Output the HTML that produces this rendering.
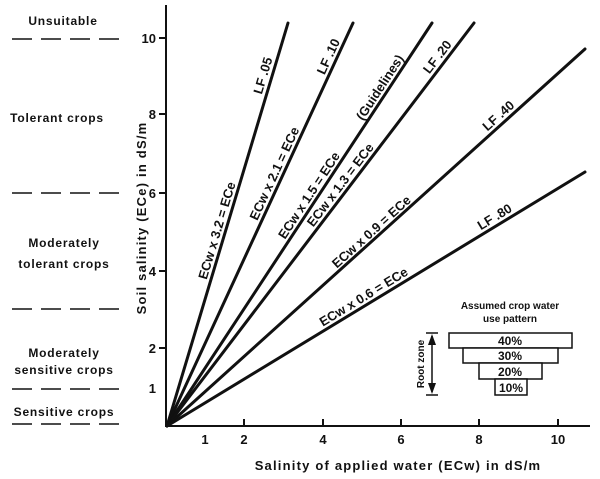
<!DOCTYPE html>
<html><head><meta charset="utf-8"><style>
body{margin:0;background:#fff}
svg{display:block}
text{font-family:"Liberation Sans",sans-serif;fill:#111;font-weight:bold}
</style></head><body>
<svg width="600" height="479" viewBox="0 0 600 479" xmlns="http://www.w3.org/2000/svg">
<g stroke="#111" stroke-width="2" fill="none">
<line x1="166" y1="5" x2="166" y2="427"/>
<line x1="165" y1="426" x2="590" y2="426"/>
<line x1="159" y1="38" x2="166" y2="38"/>
<line x1="159" y1="114" x2="166" y2="114"/>
<line x1="159" y1="193" x2="166" y2="193"/>
<line x1="159" y1="271" x2="166" y2="271"/>
<line x1="159" y1="348" x2="166" y2="348"/>
<line x1="244" y1="426" x2="244" y2="419"/>
<line x1="323" y1="426" x2="323" y2="419"/>
<line x1="401" y1="426" x2="401" y2="419"/>
<line x1="479" y1="426" x2="479" y2="419"/>
<line x1="558" y1="426" x2="558" y2="419"/>
</g>
<g stroke="#111" stroke-width="3" stroke-linecap="round">
<line x1="167" y1="426" x2="288" y2="23"/>
<line x1="167" y1="426" x2="353" y2="23"/>
<line x1="167" y1="426" x2="432" y2="23"/>
<line x1="167" y1="426" x2="474" y2="23"/>
<line x1="167" y1="426" x2="585" y2="49"/>
<line x1="167" y1="426" x2="585" y2="172"/>
</g>
<g stroke="#111" stroke-width="1.5" stroke-dasharray="20,9">
<line x1="12" y1="39" x2="120" y2="39"/>
<line x1="12" y1="193" x2="120" y2="193"/>
<line x1="12" y1="309" x2="120" y2="309"/>
<line x1="12" y1="389" x2="120" y2="389"/>
<line x1="12" y1="424" x2="120" y2="424"/>
</g>
<g font-size="12" text-anchor="middle" letter-spacing="0.8">
<text x="63" y="25">Unsuitable</text>
<text x="57" y="122">Tolerant crops</text>
<text x="64" y="247">Moderately</text>
<text x="64" y="268">tolerant crops</text>
<text x="64" y="357">Moderately</text>
<text x="64" y="374">sensitive crops</text>
<text x="64" y="416">Sensitive crops</text>
</g>
<g font-size="13" text-anchor="end">
<text x="156" y="43">10</text>
<text x="156" y="119">8</text>
<text x="156" y="198">6</text>
<text x="156" y="276">4</text>
<text x="156" y="353">2</text>
<text x="156" y="393">1</text>
</g>
<g font-size="13" text-anchor="middle">
<text x="205" y="444">1</text>
<text x="244" y="444">2</text>
<text x="323" y="444">4</text>
<text x="401" y="444">6</text>
<text x="479" y="444">8</text>
<text x="558" y="444">10</text>
</g>
<text x="398" y="470" font-size="13" text-anchor="middle" letter-spacing="1.2">Salinity of applied water  (ECw) in dS/m</text>
<text transform="translate(146,218) rotate(-90)" font-size="13" text-anchor="middle" letter-spacing="1.2">Soil salinity  (ECe) in dS/m</text>
<g font-size="13" text-anchor="middle">
<text transform="translate(225,233) rotate(-73.3)" dy="-4">ECw x 3.2 = ECe</text>
<text transform="translate(271,78) rotate(-73.3)" dy="-4">LF .05</text>
<text transform="translate(282,177) rotate(-65.2)" dy="-4">ECw x 2.1 = ECe</text>
<text transform="translate(336,60) rotate(-65.2)" dy="-4">LF .10</text>
<text transform="translate(316,200) rotate(-56.7)" dy="-4">ECw x 1.5 = ECe</text>
<text transform="translate(387,92) rotate(-56.7)" dy="-4">(Guidelines)</text>
<text transform="translate(347,190) rotate(-52.7)" dy="-4">ECw x 1.3 = ECe</text>
<text transform="translate(444,62) rotate(-52.7)" dy="-4">LF .20</text>
<text transform="translate(377,238) rotate(-42)" dy="-4">ECw x 0.9 = ECe</text>
<text transform="translate(504,122) rotate(-42)" dy="-4">LF .40</text>
<text transform="translate(368,304) rotate(-31.3)" dy="-4">ECw x 0.6 = ECe</text>
<text transform="translate(499,224) rotate(-31.3)" dy="-4">LF .80</text>
</g>
<g font-size="10" text-anchor="middle">
<text x="510" y="309">Assumed crop water</text>
<text x="510" y="322">use pattern</text>
</g>
<g stroke="#111" stroke-width="1.5" fill="#fff">
<rect x="449" y="333" width="123" height="15"/>
<rect x="463" y="348" width="95" height="15"/>
<rect x="479" y="363" width="63" height="16"/>
<rect x="495" y="379" width="32" height="16"/>
<line x1="426" y1="333" x2="438" y2="333"/>
<line x1="426" y1="395" x2="438" y2="395"/>
<line x1="432" y1="336" x2="432" y2="392"/>
</g>
<polygon points="432,334 428,345 436,345" fill="#111"/>
<polygon points="432,394 428,383 436,383" fill="#111"/>
<g font-size="12" text-anchor="middle">
<text x="510" y="345">40%</text>
<text x="510" y="360">30%</text>
<text x="510" y="376">20%</text>
<text x="511" y="392">10%</text>
</g>
<text transform="translate(424,364) rotate(-90)" font-size="10" text-anchor="middle">Root  zone</text>
</svg>
</body></html>
